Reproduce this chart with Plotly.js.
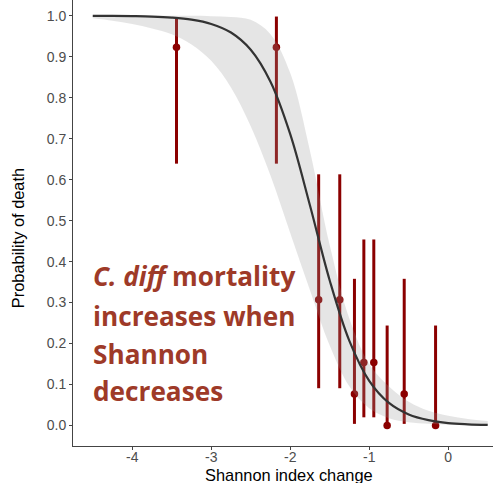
<!DOCTYPE html>
<html>
<head>
<meta charset="utf-8">
<script src="https://cdn.plot.ly/plotly-3.0.1.min.js"></script>
<style>html,body{margin:0;padding:0;background:#fff;}#chart{width:493px;height:483px;}</style>
</head>
<body>
<div id="chart"></div>
<script>
// Fitted curve
const curveX = [-4.5,-4.25,-4.0,-3.75,-3.5,-3.25,-3.0,-2.75,-2.5,-2.25,-2.0,-1.75,-1.5,-1.25,-1.0,-0.75,-0.5,-0.25,0.0,0.25,0.5];
const curveY = [0.9998,0.9995,0.999,0.998,0.9955,0.9905,0.980,0.959,0.917,0.839,0.711,0.537,0.354,0.206,0.109,0.055,0.027,0.013,0.006,0.003,0.0014];
const bandLower = [0.994,0.988,0.980,0.969,0.955,0.930,0.890,0.825,0.73,0.61,0.47,0.33,0.195,0.095,0.042,0.018,0.008,0.004,0.002,0.001,0.0005];
const bandUpper = [1.0,1.0,1.0,1.0,0.9999,0.9998,0.999,0.997,0.990,0.955,0.86,0.67,0.44,0.26,0.15,0.095,0.058,0.036,0.024,0.016,0.011];

// Observed proportions with intervals
const ptX  = [-3.44,-2.175,-1.64,-1.373,-1.187,-1.068,-0.942,-0.773,-0.557,-0.160];
const ptY  = [0.923,0.923,0.307,0.307,0.077,0.154,0.154,0.0,0.077,0.0];
const ptLo = [0.639,0.639,0.091,0.091,0.004,0.02,0.02,0.0,0.004,0.0];
const ptHi = [0.995,0.998,0.613,0.613,0.358,0.454,0.454,0.244,0.358,0.244];

const xTickVals = [-4,-3,-2,-1,0];
const xTickText = ['-4','-3','-2','-1','0'];
const yTickVals = [0,0.1,0.2,0.3,0.4,0.5,0.6,0.7,0.8,0.9,1.0];
const yTickText = ['0.0','0.1','0.2','0.3','0.4','0.5','0.6','0.7','0.8','0.9','1.0'];

const noteLines = ['<i>C. diff</i> mortality','increases when','Shannon','decreases'];
const noteY = [0.382,0.291,0.206,0.1235];

const traces = [
  {x: ptX, y: ptY, type:'scatter', mode:'markers',
   marker:{color:'#8B0000', size:7.5},
   error_y:{type:'data', symmetric:false,
     array: ptHi.map((h,i)=>h-ptY[i]),
     arrayminus: ptLo.map((l,i)=>ptY[i]-l),
     color:'#8B0000', thickness:3, width:0},
   hoverinfo:'skip', showlegend:false},
  {x: curveX, y: bandLower, type:'scatter', mode:'lines',
   line:{width:0, shape:'spline'}, hoverinfo:'skip', showlegend:false},
  {x: curveX, y: bandUpper, type:'scatter', mode:'lines', fill:'tonexty',
   fillcolor:'rgba(153,153,153,0.25)',
   line:{width:0, shape:'spline'}, hoverinfo:'skip', showlegend:false},
  {x: curveX, y: curveY, type:'scatter', mode:'lines',
   line:{color:'#333333', width:2.2, shape:'spline'}, hoverinfo:'skip', showlegend:false}
];

const annotations = noteLines.map((t,i)=>({
  text:'<b>'+t+'</b>', xref:'paper', yref:'paper', x:0.044, y:noteY[i],
  xanchor:'left', yanchor:'middle', showarrow:false,
  font:{family:'Open Sans', size:26.2, color:'#9E3A28'}
}));
annotations.push({text:'Shannon index change', xref:'paper', yref:'paper',
  x:(289-73)/420, y:-0.066, xanchor:'center', yanchor:'middle', showarrow:false,
  font:{family:'Liberation Sans, Arial', size:16.4, color:'#000'}});
annotations.push({text:'Probability of death', xref:'paper', yref:'paper',
  x:(18-73)/420, y:0.466, xanchor:'center', yanchor:'middle', textangle:-90, showarrow:false,
  font:{family:'Liberation Sans, Arial', size:16.4, color:'#000'}});

const layout = {
  width:493, height:483,
  margin:{l:73, r:0, t:0, b:37, pad:0},
  paper_bgcolor:'#fff', plot_bgcolor:'#fff',
  showlegend:false,
  xaxis:{range:[-4.75,0.567], tickvals:xTickVals, ticktext:xTickText,
    showgrid:false, zeroline:false, showline:true, linecolor:'#444', linewidth:1,
    ticks:'outside', ticklen:3, tickcolor:'#444', tickwidth:1, ticklabelstandoff:-5,
    tickfont:{family:'Liberation Sans, Arial', size:14, color:'#4D4D4D'}},
  yaxis:{range:[-0.05,1.0384], tickvals:yTickVals, ticktext:yTickText,
    showgrid:false, zeroline:false, showline:true, linecolor:'#444', linewidth:1,
    ticks:'outside', ticklen:3, tickcolor:'#444', tickwidth:1,
    tickfont:{family:'Liberation Sans, Arial', size:14, color:'#4D4D4D'}},
  annotations: annotations
};

Plotly.newPlot('chart', traces, layout, {staticPlot:true, displayModeBar:false});
</script>
</body>
</html>
